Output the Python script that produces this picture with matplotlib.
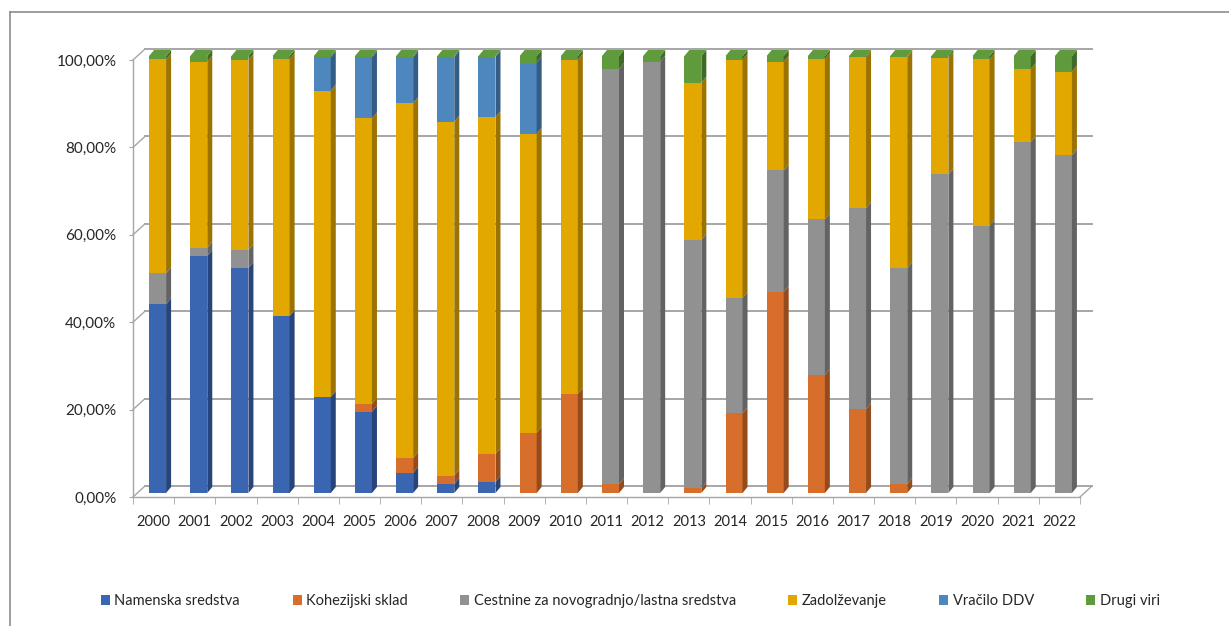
import matplotlib.pyplot as plt
from matplotlib.patches import Polygon
from matplotlib.lines import Line2D
from matplotlib.ticker import FixedLocator

plt.rcParams['font.family'] = ['Lato', 'DejaVu Sans']

# financing shares per year, in percent
years = [str(y) for y in range(2000, 2023)]
namenska = [43.2, 54.2, 51.5, 40.5, 22.0, 18.6, 4.6, 2.1, 2.5, 0, 0, 0,
            0, 0, 0, 0, 0, 0, 0, 0, 0, 0, 0]
kohezijski = [0, 0, 0, 0, 0, 1.8, 3.4, 1.9, 6.4, 13.8, 22.7, 2.0,
              0, 1.1, 18.2, 46.0, 27.0, 19.2, 2.1, 0, 0, 0, 0]
cestnine = [7.1, 1.9, 4.1, 0, 0, 0, 0, 0, 0, 0, 0, 95.0,
            98.7, 56.8, 26.4, 27.8, 35.6, 46.0, 49.4, 72.9, 61.2, 80.3, 77.3]
zadolzevanje = [48.9, 42.6, 43.5, 58.8, 70.1, 65.3, 81.2, 81.0, 77.1, 68.4, 76.4, 0,
                0, 36.0, 54.5, 24.9, 36.7, 34.5, 48.3, 26.6, 38.0, 16.7, 19.1]
vracilo_ddv = [0, 0, 0, 0, 7.6, 14.0, 10.5, 14.8, 13.8, 16.3, 0, 0,
               0, 0, 0, 0, 0, 0, 0, 0, 0, 0, 0]
drugi_viri = [0.8, 1.3, 0.9, 0.7, 0.3, 0.3, 0.3, 0.2, 0.2, 1.5, 0.9, 3.0,
              1.3, 6.1, 0.9, 1.3, 0.7, 0.3, 0.2, 0.5, 0.8, 3.0, 3.6]

series = [
    ('Namenska sredstva', namenska, '#3a65b0', '#27457a'),
    ('Kohezijski sklad', kohezijski, '#d76e2b', '#964b1c'),
    ('Cestnine za novogradnjo/lastna sredstva', cestnine, '#919191', '#636363'),
    ('Zadolževanje', zadolzevanje, '#e3a800', '#9c7300'),
    ('Vračilo DDV', vracilo_ddv, '#4e86be', '#345c84'),
    ('Drugi viri', drugi_viri, '#5f9a3c', '#3f6a27'),
]

W, H = 1229, 626
ax_l, ax_r, ax_t, ax_b = 133, 1080, 60, 497
fig = plt.figure(figsize=(W / 100, H / 100), dpi=100)
ax = fig.add_axes([ax_l / W, 1 - ax_b / H, (ax_r - ax_l) / W, (ax_b - ax_t) / H])
n = len(years)
ax.set_xlim(0, n)
ax.set_ylim(0, 100)

# pixel -> data unit conversions
px_x = (ax_r - ax_l) / n
px_y = (ax_b - ax_t) / 100.0

grid_col = '#a6a6a6'
back_dx, back_dy = 12 / px_x, 11 / px_y
bar_dx, bar_dy = 4 / px_x, 4 / px_y
depth_x, depth_y = 5 / px_x, 6 / px_y
bar_w = 17 / px_x

# back wall gridlines and the left wall edges
yticks = [0, 20, 40, 60, 80, 100]
for v in yticks:
    ax.add_line(Line2D([back_dx, n + back_dx], [v + back_dy, v + back_dy],
                       color=grid_col, lw=1.4, clip_on=False, zorder=1))
    ax.add_line(Line2D([0, back_dx], [v, v + back_dy],
                       color=grid_col, lw=1.0, clip_on=False, zorder=1))
# right edge of the floor
ax.add_line(Line2D([n, n + back_dx], [0, back_dy], color=grid_col, lw=1.0,
                   clip_on=False, zorder=1))

# stacked 3d-looking columns
bottoms = [0.0] * n
top_col = [None] * n
for name, vals, col, dark in series:
    for i, v in enumerate(vals):
        if v <= 0:
            continue
        x0 = i + 0.5 - bar_w / 2 + bar_dx
        x1 = x0 + bar_w
        y0 = bottoms[i] + bar_dy
        y1 = y0 + v
        ax.add_patch(Polygon([(x0, y0), (x1, y0), (x1, y1), (x0, y1)],
                             closed=True, facecolor=col, edgecolor='none',
                             clip_on=False, zorder=3))
        ax.add_patch(Polygon([(x1, y0), (x1 + depth_x, y0 + depth_y),
                              (x1 + depth_x, y1 + depth_y), (x1, y1)],
                             closed=True, facecolor=dark, edgecolor='none',
                             clip_on=False, zorder=3))
        bottoms[i] += v
        top_col[i] = col
    ax.bar([0], [0], color=col, label=name)

for i in range(n):
    x0 = i + 0.5 - bar_w / 2 + bar_dx
    x1 = x0 + bar_w
    y1 = bottoms[i] + bar_dy
    ax.add_patch(Polygon([(x0, y1), (x1, y1), (x1 + depth_x, y1 + depth_y),
                          (x0 + depth_x, y1 + depth_y)],
                         closed=True, facecolor=top_col[i], edgecolor='none',
                         clip_on=False, zorder=3))

# axes styling
for s in ['top', 'right']:
    ax.spines[s].set_visible(False)
for s in ['left', 'bottom']:
    ax.spines[s].set_color(grid_col)
    ax.spines[s].set_linewidth(1.0)

ax.set_yticks(yticks)
ax.set_yticklabels([f'{v:.2f}'.replace('.', ',') + '%' for v in yticks])
ax.tick_params(axis='y', length=3, color=grid_col, pad=9, labelsize=11,
               labelcolor='#262626')
ax.set_xticks([i + 0.5 for i in range(n)])
ax.set_xticklabels(years)
ax.xaxis.set_minor_locator(FixedLocator(list(range(n + 1))))
ax.tick_params(axis='x', which='major', length=0, pad=13, labelsize=10.5,
               labelcolor='#262626')
ax.tick_params(axis='x', which='minor', length=5, color=grid_col)

fig.legend(loc='center', bbox_to_anchor=(0.513, 1 - 601 / H), ncol=6,
           frameon=False, fontsize=10.5, handlelength=0.62, handleheight=0.62,
           handletextpad=0.3, columnspacing=3.6, labelcolor='#262626')

# chart frame
fig.add_artist(Line2D([10 / W, 10 / W], [0, 1 - 12 / H], color='#8c8c8c',
                      lw=1.2, transform=fig.transFigure))
fig.add_artist(Line2D([10 / W, 1], [1 - 12 / H, 1 - 12 / H], color='#8c8c8c',
                      lw=1.2, transform=fig.transFigure))

fig.savefig('out.png', dpi=100, facecolor='white')
